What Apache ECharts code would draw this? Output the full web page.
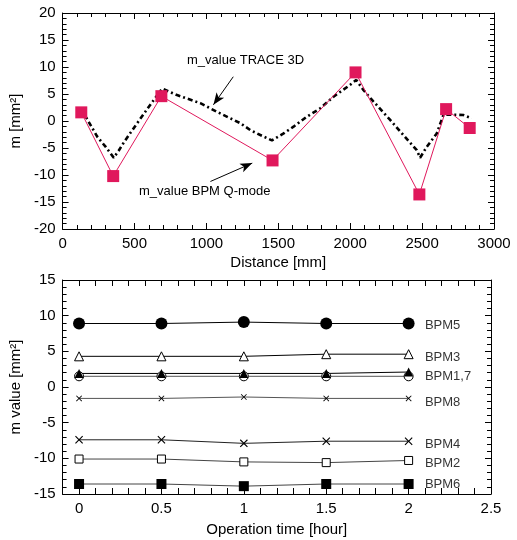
<!DOCTYPE html>
<html>
<head>
<meta charset="utf-8">
<script src="https://cdn.jsdelivr.net/npm/echarts@6/dist/echarts.min.js"></script>
<style>
  html, body { margin: 0; padding: 0; background: #fff; }
  #main { width: 517px; height: 540px; }
</style>
</head>
<body>
<div id="main"></div>
<script>
// top chart: m value along the distance
var bpmDist = [130, 352, 687, 1460, 2037, 2481, 2667, 2831];
var bpmQmode = [1.6, -10.2, 4.6, -7.3, 9.0, -13.6, 2.2, -1.3];

var traceDist = [130, 148, 241, 300, 356, 390, 430, 519, 600, 692, 796, 958, 1074, 1236, 1306, 1375, 1456,
    1537, 1606, 1699, 1792, 1884, 2000, 2042, 2093, 2162, 2278, 2370, 2463, 2486, 2532, 2602, 2648, 2683, 2787, 2845];
var trace3d = [1.8, 1.4, -2.9, -4.8, -6.8, -5.5, -3.8, -0.4, 2.65, 6.0, 4.8, 3.3, 1.7, -0.4, -1.7, -2.6, -3.6,
    -2.3, -1.05, 0.8, 2.35, 4.5, 6.7, 7.6, 5.7, 3.6, 0.2, -2.6, -5.4, -6.8, -4.8, -2.3, 1.1, 1.2, 1.1, 0.5];

// bottom chart: m value during operation
var opTime = [0, 0.5, 1, 1.5, 2];
var bpm5 = [8.9, 8.9, 9.1, 8.9, 8.9];
var bpm3 = [4.3, 4.3, 4.3, 4.6, 4.6];
var bpm1 = [1.9, 1.9, 1.9, 1.9, 2.1];
var bpm7 = [1.5, 1.5, 1.5, 1.5, 1.5];
var bpm8 = [-1.6, -1.6, -1.4, -1.6, -1.6];
var bpm4 = [-7.4, -7.4, -7.9, -7.6, -7.6];
var bpm2 = [-10.1, -10.1, -10.5, -10.6, -10.3];
var bpm6 = [-13.6, -13.6, -13.9, -13.6, -13.6];

var timeTicks = [0, 0.5, 1, 1.5, 2, 2.5];

// label text and the value each one sits beside
var bpmLabels = ['BPM5', 'BPM3', 'BPM1,7', 'BPM8', 'BPM4', 'BPM2', 'BPM6'];
var bpmLabelAt = [8.7, 4.2, 1.5, -2.2, -8.1, -10.7, -13.6];

function pairs(xs, ys) {
    var out = [];
    for (var i = 0; i < xs.length; i++) out.push([xs[i], ys[i]]);
    return out;
}

var font = 'Liberation Sans, Arial, sans-serif';
var crossPath = 'path://M0,1L1,0L5,4L9,0L10,1L6,5L10,9L9,10L5,6L1,10L0,9L4,5Z';

function boxAxis(opt) {
    var a = {
        type: 'value',
        gridIndex: opt.grid,
        position: opt.position,
        min: opt.min,
        max: opt.max,
        interval: opt.interval,
        splitLine: { show: false },
        axisLine: { show: true, onZero: false, lineStyle: { color: '#000', width: 1 } },
        axisTick: { show: true, inside: true, length: 6, lineStyle: { color: '#000', width: 1 } },
        minorTick: { show: opt.minor > 0, splitNumber: opt.minor || 5, length: 4, lineStyle: { color: '#000', width: 1 } },
        axisLabel: { show: !!opt.labels, color: '#000', fontSize: 15, fontFamily: font, margin: 7,
            formatter: opt.formatter || function (v) { return String(v); } }
    };
    if (opt.name) {
        a.name = opt.name;
        a.nameLocation = 'middle';
        a.nameGap = opt.nameGap;
        a.nameTextStyle = { color: '#000', fontSize: 15, fontFamily: font };
    }
    return a;
}

var timeFormatter = function (v) {
    var r = Math.round(v * 10) / 10;
    for (var i = 0; i < timeTicks.length; i++) {
        if (Math.abs(r - timeTicks[i]) < 1e-6) return String(timeTicks[i]);
    }
    return '';
};

function bpmSeries(name, data, symbol, size, filled, lineColor) {
    return {
        name: name,
        type: 'line',
        xAxisIndex: 2,
        yAxisIndex: 2,
        data: pairs(opTime, data),
        symbol: symbol,
        symbolSize: size,
        showAllSymbol: true,
        lineStyle: { color: lineColor, width: 1 },
        itemStyle: filled
            ? { color: '#000' }
            : { color: '#fff', borderColor: '#000', borderWidth: 1 },
        z: 3
    };
}

var chart = echarts.init(document.getElementById('main'));
var option = {
    animation: false,
    backgroundColor: '#fff',
    grid: [
        { left: 62, top: 13, width: 432, height: 216 },
        { left: 60, top: 280, width: 431, height: 214 }
    ],
    xAxis: [
        boxAxis({ grid: 0, position: 'bottom', min: 0, max: 3000, interval: 500, minor: 5, labels: true,
            name: 'Distance [mm]', nameGap: 26 }),
        boxAxis({ grid: 0, position: 'top', min: 0, max: 3000, interval: 500, minor: 5 }),
        boxAxis({ grid: 1, position: 'bottom', min: -0.1, max: 2.5, interval: 0.1, minor: 0, labels: true,
            formatter: timeFormatter, name: 'Operation time [hour]', nameGap: 28 }),
        boxAxis({ grid: 1, position: 'top', min: -0.1, max: 2.5, interval: 0.1, minor: 0 })
    ],
    yAxis: [
        boxAxis({ grid: 0, position: 'left', min: -20, max: 20, interval: 5, minor: 5, labels: true,
            name: 'm [mm²]', nameGap: 34 }),
        boxAxis({ grid: 0, position: 'right', min: -20, max: 20, interval: 5, minor: 5 }),
        boxAxis({ grid: 1, position: 'left', min: -15, max: 15, interval: 5, minor: 5, labels: true,
            name: 'm value [mm²]', nameGap: 34 }),
        boxAxis({ grid: 1, position: 'right', min: -15, max: 15, interval: 5, minor: 5 })
    ],
    series: [
        {
            name: 'm_value TRACE 3D',
            type: 'line',
            xAxisIndex: 0,
            yAxisIndex: 0,
            data: pairs(traceDist, trace3d),
            symbol: 'none',
            lineStyle: { color: '#000', width: 2.6, type: [5, 3, 2, 3] },
            z: 2
        },
        {
            name: 'm_value BPM Q-mode',
            type: 'line',
            xAxisIndex: 0,
            yAxisIndex: 0,
            data: pairs(bpmDist, bpmQmode),
            symbol: 'rect',
            symbolSize: 12,
            lineStyle: { color: '#E0185C', width: 1 },
            itemStyle: { color: '#E0185C' },
            z: 3,
            markLine: {
                silent: true,
                symbol: ['none', 'arrow'],
                symbolSize: [7, 12],
                label: { show: false },
                lineStyle: { color: '#000', width: 1, type: 'solid' },
                data: [
                    [{ coord: [1187, 8.2] }, { coord: [1049, 3.0] }],
                    [{ coord: [1028, -11.2] }, { coord: [1319, -7.8] }]
                ]
            }
        },
        bpmSeries('BPM5', bpm5, 'circle', 12, true, '#000'),
        bpmSeries('BPM3', bpm3, 'triangle', 9, false, '#000'),
        bpmSeries('BPM7', bpm7, 'circle', 9, false, '#555'),
        bpmSeries('BPM1', bpm1, 'triangle', 9, true, '#000'),
        bpmSeries('BPM8', bpm8, crossPath, 6, true, '#555'),
        bpmSeries('BPM4', bpm4, crossPath, 8, true, '#222'),
        bpmSeries('BPM2', bpm2, 'rect', 8, false, '#444'),
        bpmSeries('BPM6', bpm6, 'rect', 10, true, '#444'),
        {
            // right-hand BPM names, placed by value on the bottom chart
            type: 'scatter',
            xAxisIndex: 2,
            yAxisIndex: 2,
            symbol: 'circle',
            symbolSize: 1,
            itemStyle: { color: 'rgba(0,0,0,0)' },
            silent: true,
            data: bpmLabels.map(function (n, i) { return { name: n, value: [2.09, bpmLabelAt[i]] }; }),
            label: {
                show: true,
                position: 'right',
                distance: 1,
                formatter: '{b}',
                color: '#000',
                fontSize: 13,
                fontFamily: font
            }
        }
    ],
    graphic: [
        { type: 'text', left: 187, top: 54, style: { text: 'm_value TRACE 3D', fill: '#000', font: '13px ' + font } },
        { type: 'text', left: 139, top: 185, style: { text: 'm_value BPM Q-mode', fill: '#000', font: '13px ' + font } }
    ]
};
chart.setOption(option);
</script>
</body>
</html>
